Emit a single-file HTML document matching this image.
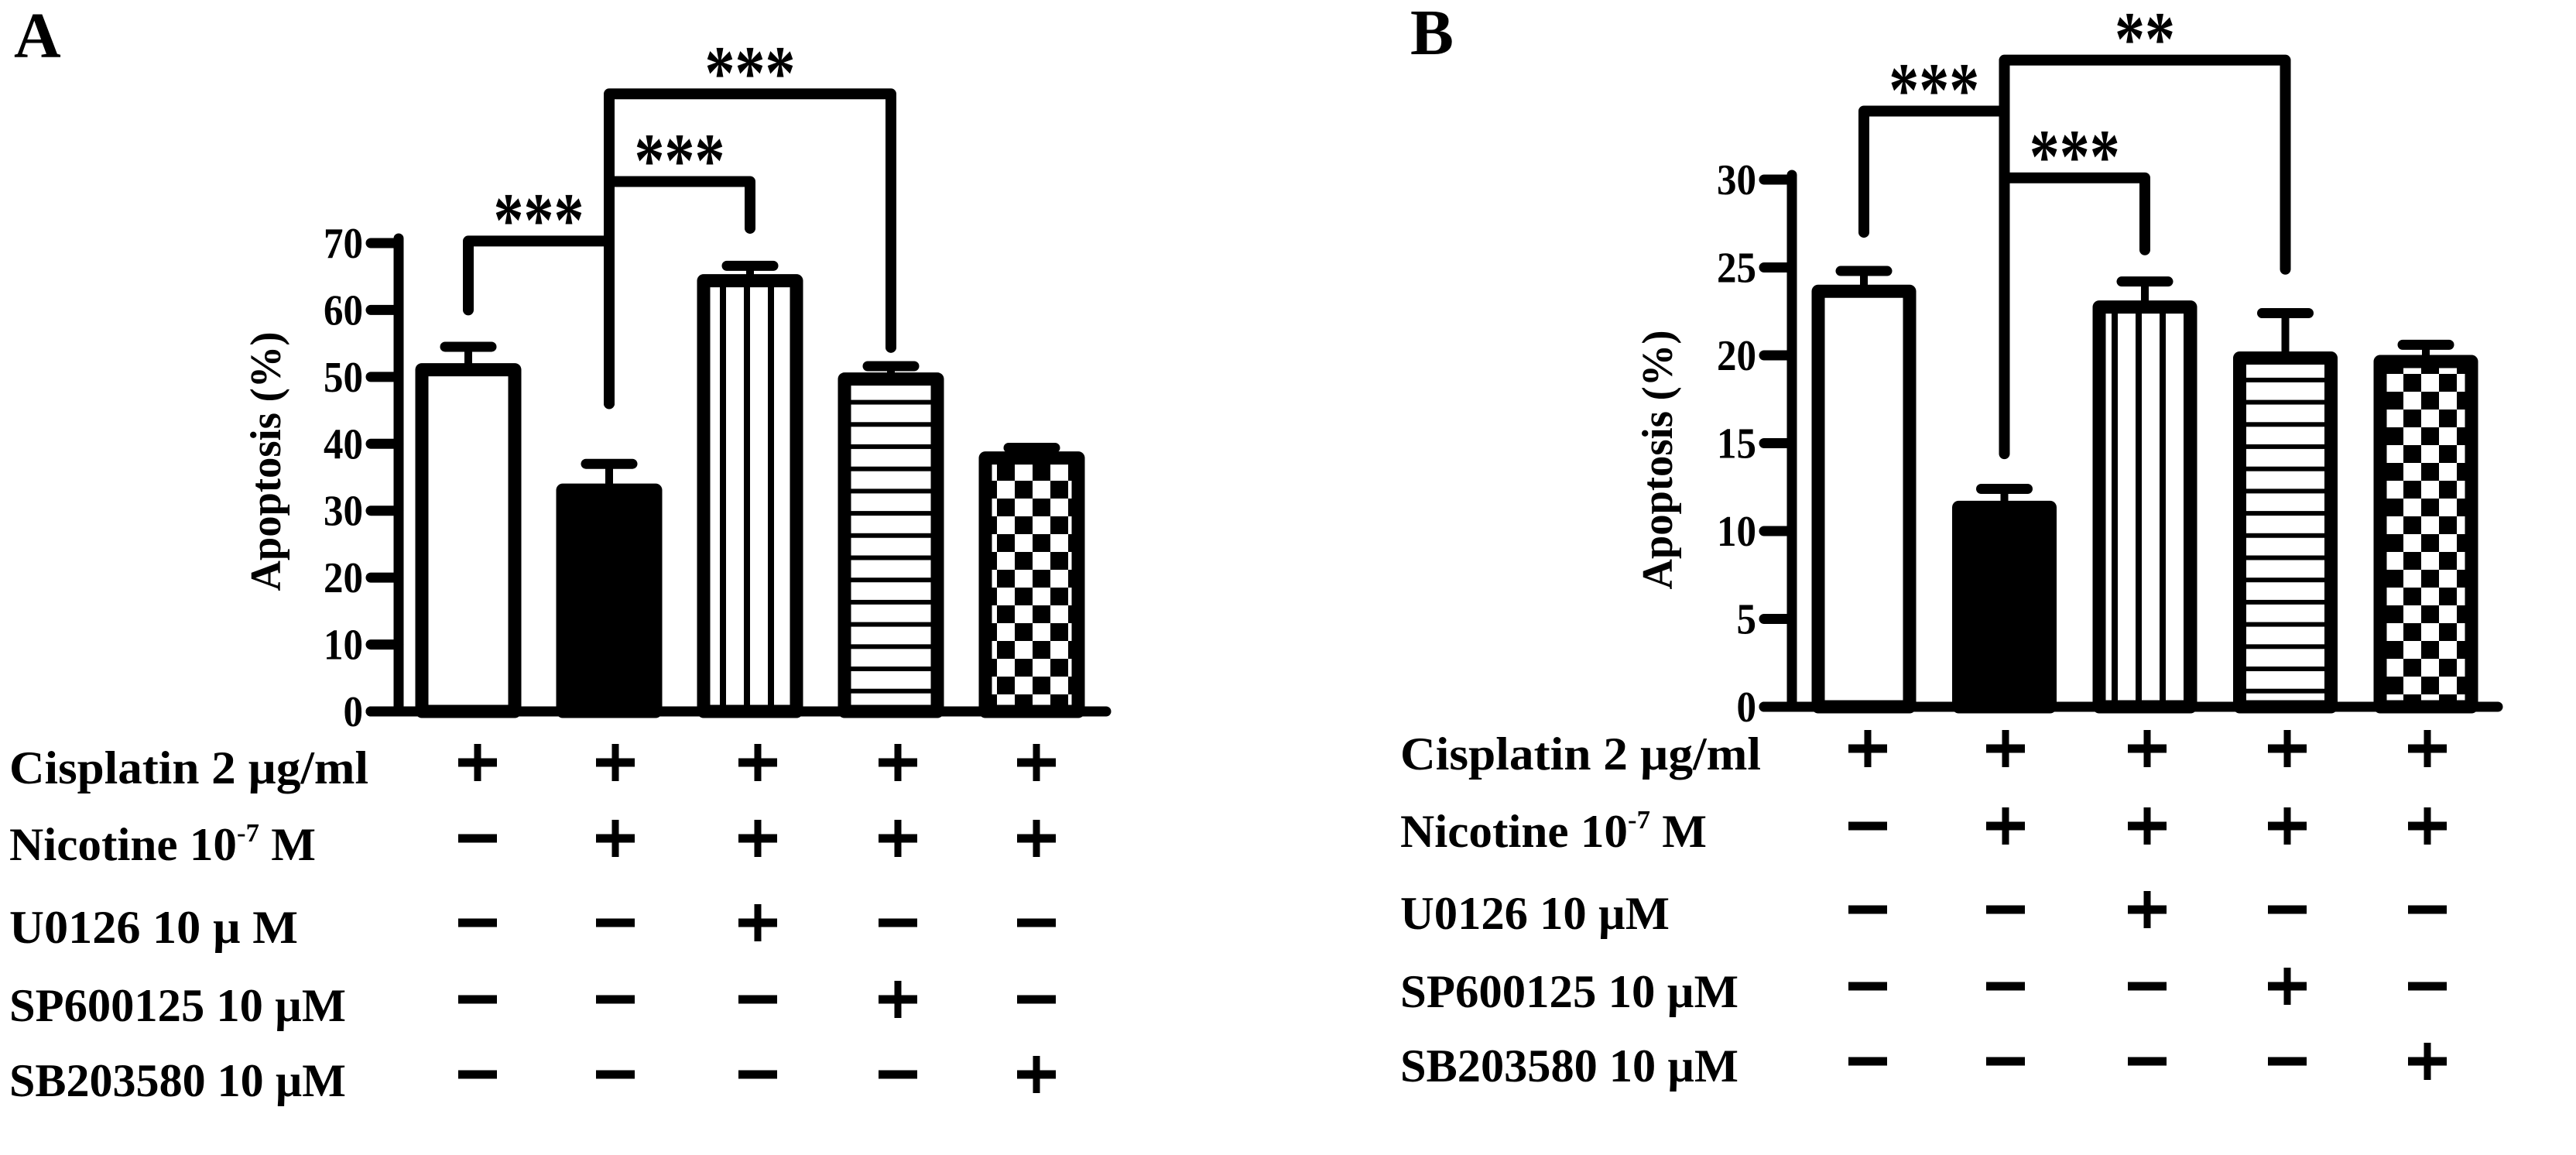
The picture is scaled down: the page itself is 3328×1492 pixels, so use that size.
<!DOCTYPE html>
<html><head><meta charset="utf-8"><style>
html,body{margin:0;padding:0;background:#fff}
svg{display:block}
text{font-family:"Liberation Serif",serif;font-weight:bold;fill:#000}
</style></head><body>
<svg id="fig" width="3328" height="1492" viewBox="0 0 3328 1492" xmlns="http://www.w3.org/2000/svg">
<defs>
<pattern id="pv" patternUnits="userSpaceOnUse" width="31" height="10" x="0" y="0"><rect x="0" y="0" width="8" height="10" fill="#000"/></pattern>
<pattern id="ph" patternUnits="userSpaceOnUse" width="10" height="28.7"><rect x="0" y="0" width="10" height="6" fill="#000"/></pattern>
<pattern id="pc" patternUnits="userSpaceOnUse" width="46" height="46"><rect x="0" y="0" width="23" height="23" fill="#000"/><rect x="23" y="23" width="23" height="23" fill="#000"/></pattern>
</defs>
</svg>
<script>
// ---- Panel A data ----
const catsA = ['ctrl','nicotine','u0126','sp600125','sb203580'];
const valsA = [52, 34, 65.3, 50.6, 38.8];
const errsA = [2.5, 3, 1.3, 1, 0.6];
const ticksA = [0,10,20,30,40,50,60,70];
// ---- Panel B data ----
const catsB = ['ctrl','nicotine','u0126','sp600125','sb203580'];
const valsB = [24, 11.7, 23.1, 20.2, 20];
const errsB = [0.8, 0.7, 1.1, 2.2, 0.6];
const ticksB = [0,5,10,15,20,25,30];
// ---- Treatment table ----
const rowLabelsA = ['Cisplatin  2 µg/ml','Nicotine 10','U0126 10  µ M','SP600125 10 µM','SB203580 10 µM'];
const rowLabelsB = ['Cisplatin  2 µg/ml','Nicotine 10','U0126 10 µM','SP600125 10 µM','SB203580 10 µM'];
const signs = [[1,1,1,1,1],[0,1,1,1,1],[0,0,1,0,0],[0,0,0,1,0],[0,0,0,0,1]];
const fills = ['#fff','#000','url(#pv)','url(#ph)','url(#pc)'];

const NS='http://www.w3.org/2000/svg';
const svg=document.getElementById('fig');
function mk(tag,attrs,parent){const e=document.createElementNS(NS,tag);for(const k in attrs)e.setAttribute(k,attrs[k]);(parent||svg).appendChild(e);return e;}

function panel(cfg){
  const g=mk('g',{});
  
  
  const ymax=cfg.ticks[cfg.ticks.length-1];
  const yS=v=>cfg.y0-(cfg.y0-cfg.yTop)*v/ymax;
  const xS=i=>cfg.x0+i*cfg.step;
  const L=mk('text',{x:cfg.lx,y:cfg.ly,'font-size':84},g);L.textContent=cfg.letter;
  
  
  const ya=mk('line',{x1:cfg.ax,y1:cfg.yTop-6,x2:cfg.ax,y2:cfg.y0,stroke:'#000','stroke-width':13,'stroke-linecap':'round'},g);
  
  
  const xa=mk('line',{x1:cfg.ax-36,y1:cfg.y0,x2:cfg.xEnd,y2:cfg.y0,stroke:'#000','stroke-width':13,'stroke-linecap':'round'},g);
  
  
  cfg.ticks.forEach(t=>{
    const y=yS(t);
    mk('line',{x1:cfg.ax-36,y1:y,x2:cfg.ax,y2:y,stroke:'#000','stroke-width':13,'stroke-linecap':'round'},g);
    const s=String(t);
    const tx=mk('text',{x:cfg.ax-46,y:y+19,'font-size':56,'text-anchor':'end',textLength:s.length*25.5,lengthAdjust:'spacingAndGlyphs'},g);
    tx.textContent=s;
    
    
  });
  const yl=mk('text',{x:0,y:0,'font-size':56,'text-anchor':'middle',textLength:335,lengthAdjust:'spacingAndGlyphs',transform:`translate(${cfg.ylx},${cfg.yly}) rotate(-90)`},g);
  yl.textContent='Apoptosis (%)';
  
  
  cfg.vals.forEach((v,i)=>{
    const cx=xS(i), w=cfg.bw, top=yS(v);
    const e=yS(v+cfg.errs[i]);
    const st=mk('line',{x1:cx,y1:top,x2:cx,y2:e,stroke:'#000','stroke-width':10},g);
    
    
    const cp=mk('line',{x1:cx-30,y1:e,x2:cx+30,y2:e,stroke:'#000','stroke-width':13,'stroke-linecap':'round'},g);
    
    
    const b=mk('rect',{x:cx-w/2+8,y:top+8,width:w-16,height:cfg.y0-top-8,fill:fills[i],stroke:'#000','stroke-width':17,'stroke-linejoin':'round'},g);
    
    
  });
  cfg.brackets.forEach(br=>{
    const xa_=xS(br.a), xb=xS(br.b), yh=yS(br.h);
    const p=mk('path',{d:`M${xa_},${yS(br.da)} L${xa_},${yh} L${xb},${yh} L${xb},${yS(br.db)}`,fill:'none',stroke:'#000','stroke-width':14,'stroke-linecap':'round','stroke-linejoin':'round'},g);
    
    
    const t=mk('text',{x:(xa_+xb)/2,y:yh+6,'font-size':100,'text-anchor':'middle',textLength:br.s.length*39,lengthAdjust:'spacingAndGlyphs'},g);
    t.textContent=br.s;
    
    
  });
  cfg.rows.forEach((lab,r)=>{
    const ry=cfg.rowY[r];
    const t=mk('text',{x:cfg.tx,y:cfg.rowBase[r],'font-size':60,textLength:cfg.rowW[r],lengthAdjust:'spacingAndGlyphs'},g);
    if(r===1){t.textContent=lab;const sp=mk('tspan',{'font-size':34,dy:-24},t);sp.textContent='-7';const sp2=mk('tspan',{'font-size':60,dy:24},t);sp2.textContent=' M';}
    else t.textContent=lab;
    
    
    signs[r].forEach((s,c)=>{
      const cx=cfg.colX[c];
      const h=mk('line',{x1:cx-25,y1:ry,x2:cx+25,y2:ry,stroke:'#000','stroke-width':11},g);
      
      
      if(s){const v=mk('line',{x1:cx,y1:ry-24,x2:cx,y2:ry+24,stroke:'#000','stroke-width':9},g);
        
        }
    });
  });
}

panel({name:'panel-a',letter:'A',lx:18,ly:74,cats:catsA,vals:valsA,errs:errsA,ticks:ticksA,
  ax:515,y0:919,yTop:314,xEnd:1429,x0:605,step:182,bw:136,ylx:362,yly:596,
  brackets:[{a:0,b:1,h:70.3,da:60,db:70.3,s:'***'},{a:1,b:2,h:79.2,da:46,db:72.2,s:'***'},{a:1,b:3,h:92.3,da:46,db:54.4,s:'***'}],
  rows:rowLabelsA,rowY:[985,1083,1192,1291,1388],rowBase:[1012,1111,1218,1319,1416],rowW:[464,396,373,435,435],
  tx:12,colX:[617,795,979,1160,1339]});
panel({name:'panel-b',letter:'B',lx:1822,ly:70,cats:catsB,vals:valsB,errs:errsB,ticks:ticksB,
  ax:2315,y0:913,yTop:232,xEnd:3227,x0:2408,step:181.5,bw:134,ylx:2160,yly:594,
  brackets:[{a:0,b:1,h:33.9,da:27,db:33.9,s:'***'},{a:1,b:2,h:30.1,da:30.1,db:26,s:'***'},{a:1,b:3,h:36.8,da:14.4,db:24.9,s:'**'}],
  rows:rowLabelsB,rowY:[967,1067,1175,1274,1371],rowBase:[994,1094,1200,1301,1397],rowW:[466,396,348,437,437],
  tx:1809,colX:[2413,2591,2774,2955,3136]});
</script>
</body></html>
